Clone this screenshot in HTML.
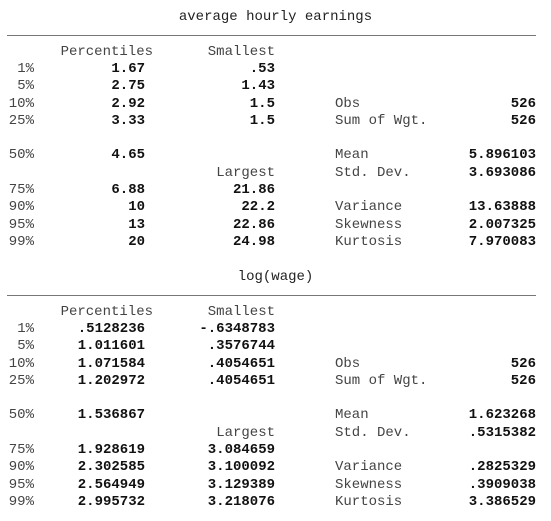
<!DOCTYPE html>
<html><head><meta charset="utf-8"><style>
body{margin:0;width:551px;height:521px;background:#fff;overflow:hidden;position:relative;font-family:"Liberation Mono","Courier New",monospace;font-size:14px;}
.t{position:absolute;white-space:pre;line-height:16px;height:16px;}
.lab{color:#444;}
.val{color:#111;font-weight:bold;}
.hr{position:absolute;left:7px;width:529px;height:1px;background:#777;}
</style></head><body>
<script>
const blocks=[
 {title:"average hourly earnings",y0:0,
  pct:["1.67","2.75","2.92","3.33","4.65","6.88","10","13","20"],
  small:[".53","1.43","1.5","1.5"],
  large:["21.86","22.2","22.86","24.98"],
  stats:["526","526","5.896103","3.693086","13.63888","2.007325","7.970083"]},
 {title:"log(wage)",y0:260,
  pct:[".5128236","1.011601","1.071584","1.202972","1.536867","1.928619","2.302585","2.564949","2.995732"],
  small:["-.6348783",".3576744",".4054651",".4054651"],
  large:["3.084659","3.100092","3.129389","3.218076"],
  stats:["526","526","1.623268",".5315382",".2825329",".3909038","3.386529"]}
];
const pLabels=["1%","5%","10%","25%","50%","75%","90%","95%","99%"];
const rowY=[69,86,104,121,155,190,207,225,242];
const statNames=["Obs","Sum of Wgt.","Mean","Std. Dev.","Variance","Skewness","Kurtosis"];
const statY=[104,121,155,173,207,225,242];
function txt(s,cls,y,left,right,name){
 const d=document.createElement('div');
 d.className='t '+cls;d.textContent=s;
 d.style.top=(y-8)+'px';
 if(left!=null)d.style.left=left+'px';
 if(right!=null){d.style.right=(551-right)+'px';}
 
 
 document.body.appendChild(d);return d;
}
blocks.forEach((b,bi)=>{
 const o=b.y0;
 const t=txt(b.title,'lab',17+o,null,null,'table-title');
 t.style.left='0';t.style.width='551px';t.style.textAlign='center';t.style.color='#222';
 const h=document.createElement('div');h.className='hr';h.style.top=(35+o)+'px';
 
 
 document.body.appendChild(h);
 txt('Percentiles','lab',52+o,null,153,'percentiles-header');
 txt('Smallest','lab',52+o,null,275,'smallest-header');
 txt('Largest','lab',173+o,null,275,'largest-header');
 pLabels.forEach((l,i)=>{
  txt(l,'lab',rowY[i]+o,null,34,'percentile-label');
  txt(b.pct[i],'val',rowY[i]+o,null,145,'percentile-value');
 });
 b.small.forEach((v,i)=>txt(v,'val',rowY[i]+o,null,275,'smallest-value'));
 b.large.forEach((v,i)=>txt(v,'val',rowY[i+5]+o,null,275,'largest-value'));
 statNames.forEach((n,i)=>{
  txt(n,'lab',statY[i]+o,335,null,'stat-label');
  txt(b.stats[i],'val',statY[i]+o,null,536,'stat-value');
 });
});
</script>
</body></html>
